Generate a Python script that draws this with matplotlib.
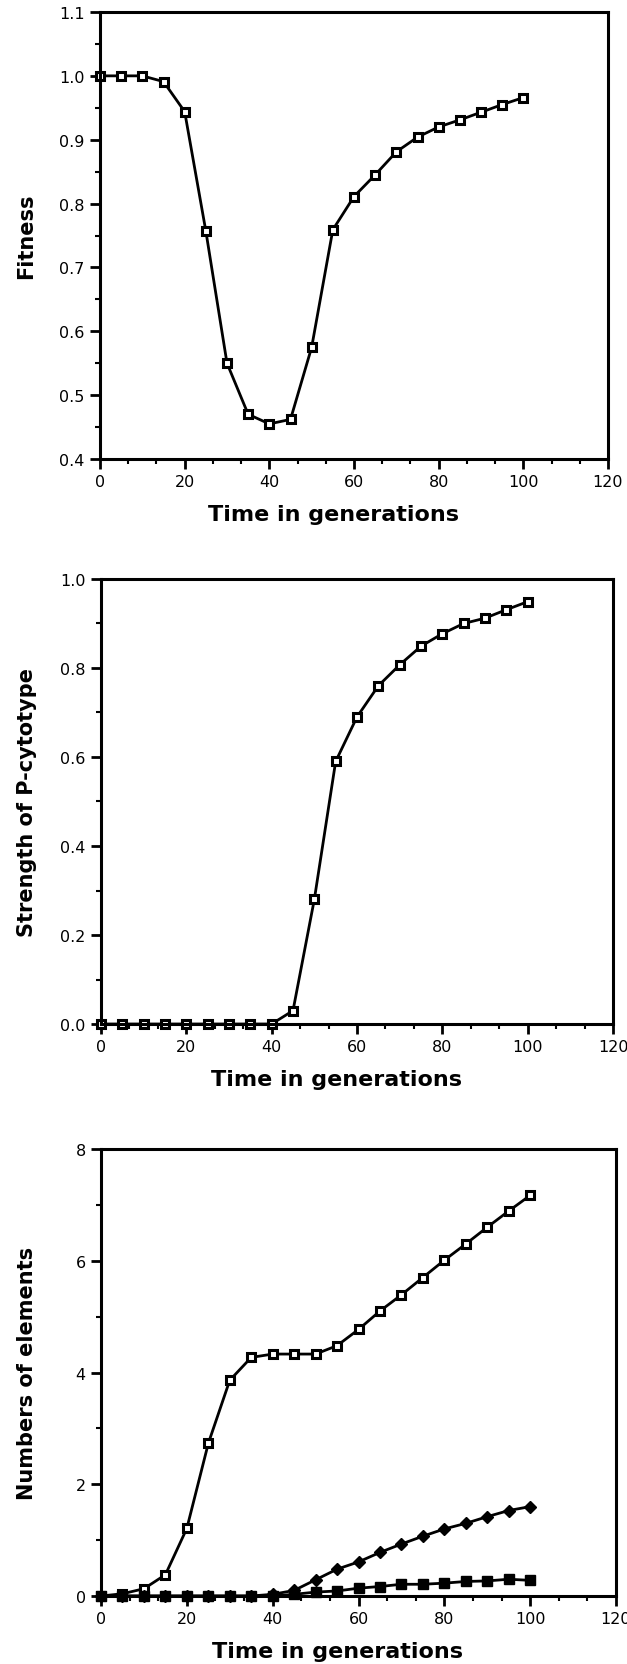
import matplotlib
matplotlib.use("Agg")
import matplotlib.pyplot as plt
from matplotlib.ticker import MultipleLocator, FormatStrFormatter

# Daten (alle drei Panels teilen sich die gleiche Zeitachse)
generations = [0, 5, 10, 15, 20, 25, 30, 35, 40, 45, 50,
               55, 60, 65, 70, 75, 80, 85, 90, 95, 100]

fitness = [1.0, 1.0, 1.0, 0.991, 0.944, 0.757, 0.55, 0.47, 0.455, 0.462, 0.575,
           0.759, 0.811, 0.845, 0.881, 0.904, 0.92, 0.931, 0.943, 0.955, 0.966]

p_strength = [0.0, 0.0, 0.0, 0.0, 0.0, 0.0, 0.0, 0.0, 0.0, 0.03, 0.28,
              0.59, 0.69, 0.76, 0.807, 0.849, 0.877, 0.9, 0.912, 0.931, 0.949]

elements_open = [0.0, 0.04, 0.13, 0.38, 1.21, 2.73, 3.86, 4.27, 4.33, 4.33, 4.33,
                 4.48, 4.77, 5.1, 5.39, 5.7, 6.01, 6.3, 6.6, 6.89, 7.17]
elements_diamond = [0.0, 0.0, 0.0, 0.0, 0.0, 0.0, 0.0, 0.0, 0.03, 0.1, 0.29,
                    0.48, 0.61, 0.78, 0.93, 1.07, 1.2, 1.3, 1.42, 1.53, 1.6]
elements_filled = [0.0, 0.0, 0.0, 0.0, 0.0, 0.0, 0.0, 0.0, 0.0, 0.03, 0.07,
                   0.09, 0.14, 0.17, 0.21, 0.21, 0.23, 0.26, 0.27, 0.3, 0.28]

xlabel = "Time in generations"

W, H = 627, 1665
fig = plt.figure(figsize=(W / 100, H / 100), dpi=100)


def make_axes(left, right, top, bottom):
    return fig.add_axes([left / W, 1 - bottom / H, (right - left) / W, (bottom - top) / H])


def style(ax, ymin, ymax, ymajor, yminor, yfmt, ylabel):
    ax.set_xlim(0, 120)
    ax.set_ylim(ymin, ymax)
    ax.xaxis.set_major_locator(MultipleLocator(20))
    ax.xaxis.set_minor_locator(MultipleLocator(20 / 3))
    ax.yaxis.set_major_locator(MultipleLocator(ymajor))
    ax.yaxis.set_minor_locator(MultipleLocator(yminor))
    ax.yaxis.set_major_formatter(FormatStrFormatter(yfmt))
    for s in ax.spines.values():
        s.set_linewidth(2.2)
    ax.tick_params(which="major", direction="out", length=7, width=2, labelsize=11.5, pad=4)
    ax.tick_params(which="minor", direction="out", length=3.5, width=1.5)
    ax.set_xlabel(xlabel, fontsize=16, fontweight="bold")
    ax.xaxis.set_label_coords(0.46, -0.1)
    ax.set_ylabel(ylabel, fontsize=15, fontweight="bold")
    ax.yaxis.set_label_coords(-0.125, 0.5)


open_sq = dict(marker="s", markersize=5.5, markerfacecolor="white",
               markeredgecolor="black", markeredgewidth=2.2, color="black", lw=2, clip_on=False)

# Panel 1: Fitness
ax1 = make_axes(100, 608, 13, 460)
ax1.plot(generations, fitness, **open_sq)
style(ax1, 0.4, 1.1, 0.1, 0.05, "%.1f", "Fitness")

# Panel 2: Stärke des P-Zytotyps
ax2 = make_axes(101, 613, 580, 1025)
ax2.plot(generations, p_strength, **open_sq)
style(ax2, 0.0, 1.0, 0.2, 0.1, "%.1f", "Strength of P-cytotype")

# Panel 3: Anzahl der Elemente
ax3 = make_axes(101, 616, 1150, 1597)
ax3.plot(generations, elements_open, **open_sq)
ax3.plot(generations, elements_diamond, marker="D", markersize=6, color="black", lw=2, clip_on=False)
ax3.plot(generations, elements_filled, marker="s", markersize=7, color="black", lw=2, clip_on=False)
style(ax3, 0, 8, 2, 1, "%d", "Numbers of elements")

fig.savefig("out.png", dpi=100)
